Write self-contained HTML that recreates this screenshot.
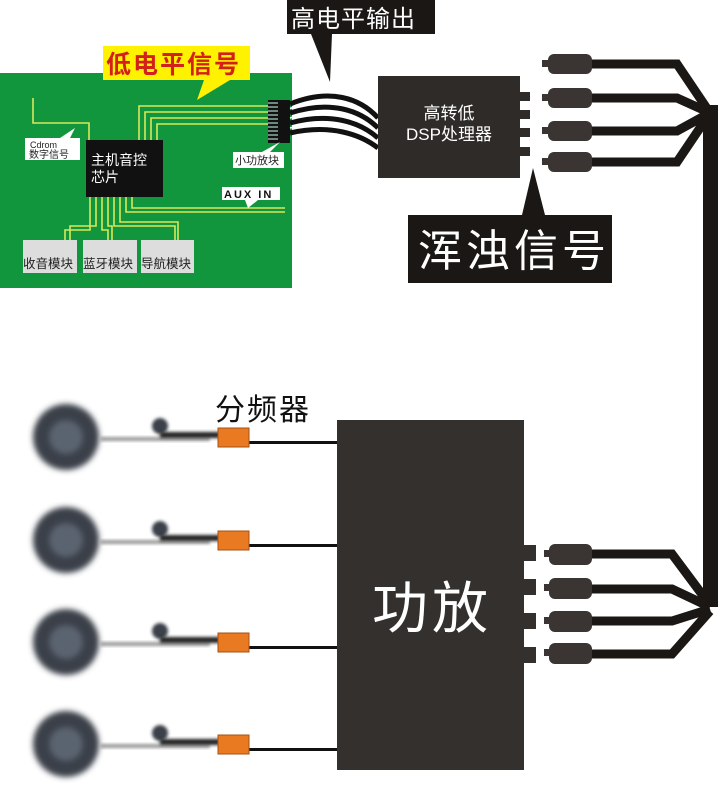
<!DOCTYPE html>
<html><head><meta charset="utf-8"><style>
html,body{margin:0;padding:0;background:#fff;}
svg{display:block;}
text{font-family:"Liberation Sans","Noto Sans CJK SC",sans-serif;}
</style></head><body>
<svg width="720" height="788" viewBox="0 0 720 788" xmlns="http://www.w3.org/2000/svg">
<defs>
<filter id="bl" x="-50%" y="-50%" width="200%" height="200%"><feGaussianBlur stdDeviation="3"/></filter>
<filter id="bl2" x="-50%" y="-50%" width="200%" height="200%"><feGaussianBlur stdDeviation="1.5"/></filter>
</defs>
<!-- board -->
<rect x="0" y="73" width="292" height="215" fill="#12963d"/>
<g stroke="#d8e85a" stroke-width="1.6" fill="none">
<path d="M33 98 V123 H89 V140"/>
<path d="M139 140 V106 H268"/><path d="M145 140 V112 H268"/><path d="M151 140 V118 H268"/><path d="M157 140 V124 H268"/>
<path d="M90 197 V230 H65 V240"/><path d="M96 197 V226 H70 V240"/>
<path d="M102 197 V230 H108 V240"/><path d="M108 197 V226 H112 V240"/>
<path d="M114 197 V226 H175 V240"/><path d="M120 197 V222 H178 V240"/>
<path d="M126 197 V212 H285"/><path d="M132 197 V208 H285"/>
</g>
<rect x="86" y="140" width="77" height="57" fill="#111"/>
<text x="91" y="165" font-size="14" fill="#fff">主机音控</text>
<text x="91" y="182" font-size="14" fill="#fff">芯片</text>
<rect x="268" y="100" width="22" height="43" fill="#111"/>
<g stroke="#cfe" stroke-width="1">
<path d="M268 103 H278 M268 107 H278 M268 111 H278 M268 115 H278 M268 119 H278 M268 123 H278 M268 127 H278 M268 131 H278 M268 135 H278 M268 139 H278"/>
</g>
<!-- labels on board -->
<path d="M25 138 H80 V160 H25 Z M60 138 L75 128 L70 138 Z" fill="#fff"/>
<text x="30" y="148" font-size="9" fill="#222" font-family="Liberation Mono">Cdrom</text>
<text x="29" y="158" font-size="10" fill="#222">数字信号</text>
<path d="M233 152 H284 V168 H233 Z M270 152 L280 142 L262 152 Z" fill="#fff"/>
<text x="235" y="164" font-size="11" fill="#222">小功放块</text>
<path d="M222 187 H280 V200 H222 Z M245 200 L248 208 L258 200 Z" fill="#fff"/>
<text x="224" y="198" font-size="11" fill="#111" font-weight="bold" letter-spacing="2">AUX IN</text>
<rect x="23" y="240" width="54" height="33" fill="#ddd"/>
<rect x="83" y="240" width="54" height="33" fill="#ddd"/>
<rect x="141" y="240" width="53" height="33" fill="#ddd"/>
<text x="23" y="268" font-size="12.5" fill="#222">收音模块</text>
<text x="83" y="268" font-size="12.5" fill="#222">蓝牙模块</text>
<text x="141" y="268" font-size="12.5" fill="#222">导航模块</text>
<!-- 低电平信号 -->
<path d="M103 46 H250 V80 H230 L197 100 L204 80 H103 Z" fill="#fff200"/>
<text x="106" y="73" font-size="25" fill="#d2201a" font-weight="bold" letter-spacing="2">低电平信号</text>
<!-- 高电平输出 -->
<path d="M287 0 H435 V34 H332 L330 82 L311 34 H287 Z" fill="#1a1714"/>
<text x="291" y="27" font-size="24" fill="#fff" letter-spacing="1">高电平输出</text>
<!-- cables to DSP -->
<g stroke="#111" stroke-width="5" fill="none">
<path d="M290 104 C330 88 360 98 378 118"/>
<path d="M290 113 C330 100 360 110 378 128"/>
<path d="M290 123 C330 112 360 122 378 138"/>
<path d="M290 133 C330 124 360 134 378 148"/>
</g>
<g stroke="#fff" stroke-width="1.6" fill="none">
<path d="M290 108.5 C330 94 360 104 378 123"/>
<path d="M290 118 C330 106 360 116 378 133"/>
<path d="M290 128 C330 118 360 128 378 143"/>
</g>
<!-- DSP -->
<rect x="378" y="76" width="142" height="102" fill="#2e2b29"/>
<text x="449" y="119" font-size="17" fill="#fff" text-anchor="middle">高转低</text>
<text x="449" y="140" font-size="17" fill="#fff" text-anchor="middle">DSP处理器</text>
<g fill="#2e2b29">
<rect x="520" y="92" width="10" height="9"/><rect x="520" y="110" width="10" height="9"/><rect x="520" y="128" width="10" height="9"/><rect x="520" y="147" width="10" height="9"/>
</g>
<!-- 浑浊信号 -->
<path d="M408 215 H612 V283 H408 Z M522 215 L533 168 L545 215 Z" fill="#1a1714"/>
<text x="418" y="266" font-size="44" fill="#fff" letter-spacing="4">浑浊信号</text>
<!-- top RCA -->
<g fill="#1a1714">
<path d="M590 64 H677 L708 110" stroke="#1a1714" stroke-width="9" fill="none"/>
<path d="M590 98 H677 L708 112" stroke="#1a1714" stroke-width="9" fill="none"/>
<path d="M590 131 H677 L708 114" stroke="#1a1714" stroke-width="9" fill="none"/>
<path d="M590 162 H677 L708 116" stroke="#1a1714" stroke-width="9" fill="none"/>
<rect x="703" y="105" width="15" height="502"/>
</g>
<g fill="#3a3532">
<rect x="548" y="54" width="44" height="20" rx="6"/><rect x="542" y="60" width="8" height="7"/>
<rect x="548" y="88" width="44" height="20" rx="6"/><rect x="542" y="94" width="8" height="7"/>
<rect x="548" y="121" width="44" height="20" rx="6"/><rect x="542" y="127" width="8" height="7"/>
<rect x="548" y="152" width="44" height="20" rx="6"/><rect x="542" y="158" width="8" height="7"/>
</g>
<!-- bottom RCA -->
<g fill="#1a1714">
<path d="M590 554 H672 L710 605" stroke="#1a1714" stroke-width="9" fill="none"/>
<path d="M590 589 H672 L710 607" stroke="#1a1714" stroke-width="9" fill="none"/>
<path d="M590 621 H672 L710 609" stroke="#1a1714" stroke-width="9" fill="none"/>
<path d="M590 654 H672 L710 611" stroke="#1a1714" stroke-width="9" fill="none"/>
</g>
<g fill="#3a3532">
<rect x="549" y="544" width="43" height="21" rx="6"/><rect x="544" y="550" width="7" height="7"/>
<rect x="549" y="578" width="43" height="21" rx="6"/><rect x="544" y="584" width="7" height="7"/>
<rect x="549" y="611" width="43" height="21" rx="6"/><rect x="544" y="617" width="7" height="7"/>
<rect x="549" y="643" width="43" height="21" rx="6"/><rect x="544" y="649" width="7" height="7"/>
</g>
<!-- amp -->
<rect x="337" y="420" width="187" height="350" fill="#33302e"/>
<g fill="#33302e">
<rect x="524" y="545" width="12" height="16"/><rect x="524" y="579" width="12" height="16"/><rect x="524" y="613" width="12" height="16"/><rect x="524" y="647" width="12" height="16"/>
</g>
<text x="432" y="628" font-size="56" fill="#fff" text-anchor="middle" letter-spacing="4">功放</text>
<text x="215" y="420" font-size="30" fill="#111" letter-spacing="2">分频器</text>
<!-- speakers -->
<g id="sp">
<circle cx="66" cy="437" r="33" fill="#3a4048" filter="url(#bl)"/>
<circle cx="66" cy="437" r="17" fill="#5a6470" filter="url(#bl)"/>
<rect x="100" y="437" width="110" height="4" fill="#999" filter="url(#bl2)"/>
<circle cx="160" cy="426" r="8" fill="#3a4048" filter="url(#bl2)"/>
<rect x="160" y="432" width="60" height="6" fill="#222" filter="url(#bl2)"/>
<rect x="249" y="441" width="88" height="3" fill="#111"/>
<rect x="218" y="428" width="31" height="19" fill="#e97a22" stroke="#a55312" stroke-width="1"/>
</g>
<use href="#sp" y="103"/>
<use href="#sp" y="205"/>
<use href="#sp" y="307"/>
</svg>
</body></html>
